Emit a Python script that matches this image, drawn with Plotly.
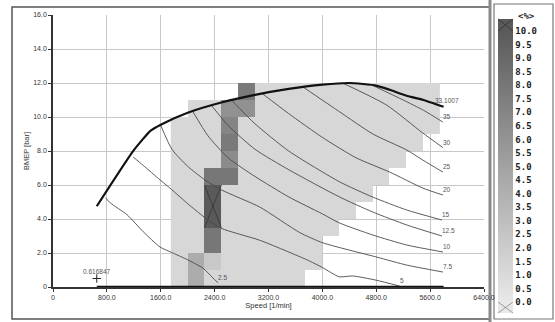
import plotly.graph_objects as go
import numpy as np

# ---------------- data ----------------
speed_ticks = [0, 800, 1600, 2400, 3200, 4000, 4800, 5600, 6400]
speed_tick_labels = ["0", "800.0", "1600.0", "2400.0", "3200.0", "4000.0", "4800.0", "5600.0", "6400.0"]
bmep_ticks = [0, 2, 4, 6, 8, 10, 12, 14, 16]
bmep_tick_labels = ["0", "2.0", "4.0", "6.0", "8.0", "10.0", "12.0", "14.0", "16.0"]

# full-load curve
fl_speed = [650, 1200, 1450, 1600, 2000, 2500, 3000, 3500, 4000, 4400, 4800, 5000, 5250, 5500, 5800]
fl_bmep = [4.75, 8.05, 9.2, 9.55, 10.25, 10.85, 11.3, 11.65, 11.9, 12.0, 11.85, 11.6, 11.25, 11.0, 10.6]

# zero-load line
zl_speed = [650, 5800]
zl_bmep = [0, 0]

# map cells (value in %)
cell_speed_edges = list(range(1750, 5751, 250))
cell_bmep_edges = [i * 0.5 for i in range(25)]
col_bottom = [0, 0, 0, 0, 0, 0, 0, 0, 1, 3, 4, 5, 6, 7, 8, 9]
col_top = [10, 11, 11, 11, 12, 12, 12, 12, 12, 12, 12, 12, 12, 12, 12, 12]
base_value = 1.2
# (speed_lo, bmep_lo, bmep_hi, value)
special_cells = [
    (2000, 0.0, 2.0, 4.3),
    (2250, 1.0, 2.0, 2.3),
    (2250, 2.0, 3.5, 8.0),
    (2250, 3.5, 6.0, 11.0),
    (2250, 6.0, 7.0, 8.0),
    (2500, 6.0, 7.0, 8.0),
    (2500, 7.0, 8.0, 6.6),
    (2500, 8.0, 9.0, 7.8),
    (2500, 9.0, 10.0, 7.0),
    (2500, 10.0, 11.0, 6.2),
    (2750, 10.0, 11.0, 6.2),
    (2750, 11.0, 12.0, 7.8),
]
z_min, z_max = 0.0, 10.0

# iso-lines (label, speed, bmep)
iso_lines = [
    ("2.5", [780, 850, 1100, 1340, 1590, 1780, 2000, 2230, 2370, 2450],
            [5.25, 4.95, 4.25, 3.25, 2.35, 2.0, 1.6, 1.1, 0.55, 0.25]),
    ("5", [1190, 1340, 1590, 1800, 2000, 2250, 2500, 3070, 3770, 4000, 4250, 4450, 4800, 5150],
          [7.65, 7.15, 6.3, 5.6, 4.9, 4.1, 3.45, 2.75, 1.6, 1.15, 0.6, 0.65, 0.4, 0.05]),
    ("7.5", [1600, 1766, 2000, 2255, 2507, 3071, 3665, 4006, 4807, 5252, 5790],
            [9.5, 8.1, 7.1, 6.3, 5.7, 4.7, 3.2, 2.6, 1.76, 1.29, 0.88]),
    ("10", [2080, 2300, 2600, 3000, 3500, 4000, 4258, 4748, 5252, 5790],
           [10.3, 8.9, 7.6, 6.5, 5.3, 4.3, 3.76, 3.06, 2.47, 2.06]),
    ("12.5", [2350, 2600, 3000, 3500, 4258, 4748, 5252, 5775],
             [10.7, 9.5, 8.1, 6.9, 5.29, 4.41, 3.65, 3.0]),
    ("15", [2650, 3000, 3500, 4258, 4748, 5252, 5775],
           [11.0, 9.6, 8.0, 6.18, 5.29, 4.53, 3.94]),
    ("20", [3100, 3500, 4000, 4500, 5000, 5490, 5790],
           [11.4, 10.2, 8.8, 7.6, 6.76, 5.82, 5.41]),
    ("25", [3700, 4258, 4750, 5252, 5490, 5790],
           [11.8, 10.3, 9.0, 8.06, 7.47, 6.76]),
    ("30", [4300, 4955, 5490, 5790],
           [12.0, 10.7, 9.06, 8.2]),
    ("35", [4750, 5200, 5500, 5790],
           [11.85, 11.0, 10.4, 9.7]),
]

min_point = (650, 0.5, "0.616847")
max_label = (5650, 11.0, "33.1007")

colorbar_ticks = [i * 0.5 for i in range(21)]
colorbar_labels = ["%.1f" % v for v in colorbar_ticks]
colorbar_title = "&lt;%&gt;"

# ---------------- build ----------------
ncol = len(cell_speed_edges) - 1
nrow = len(cell_bmep_edges) - 1
z = np.full((nrow, ncol), np.nan)
for c in range(ncol):
    for r in range(nrow):
        ymid = (cell_bmep_edges[r] + cell_bmep_edges[r + 1]) / 2
        if col_bottom[c] < ymid < col_top[c]:
            z[r, c] = base_value
for (sx, y0, y1, v) in special_cells:
    c = cell_speed_edges.index(sx)
    for r in range(nrow):
        ymid = (cell_bmep_edges[r] + cell_bmep_edges[r + 1]) / 2
        if y0 < ymid < y1:
            z[r, c] = v

greys = [[0.0, "#e8e8e8"], [0.5, "#a2a2a2"], [1.0, "#5a5a5a"]]

# pixel geometry helpers (plot area 53..484 x 15..287)
PX_L, PX_R, PX_T, PX_B = 53, 484, 15, 287
def px(xp):
    return (xp - PX_L) / (PX_R - PX_L)
def py(yp):
    return (PX_B - yp) / (PX_B - PX_T)

fig = go.Figure()
fig.add_trace(go.Heatmap(
    x=cell_speed_edges, y=cell_bmep_edges, z=z,
    zmin=z_min, zmax=z_max, colorscale=greys, hoverongaps=False,
    colorbar=dict(
        x=px(498), xanchor="left", xref="paper", xpad=0, ypad=0,
        y=py(166.5), yanchor="middle", len=271, lenmode="pixels",
        thickness=15, outlinewidth=0,
        tickvals=colorbar_ticks, ticktext=colorbar_labels,
        ticks="", ticklabelposition="outside",
        tickfont=dict(family="DejaVu Sans Mono", size=9, color="#222", weight="bold"),
    ),
))

# crosses in overflow cells
cx, cy = [], []
for (sx, y0, y1, v) in special_cells:
    if v > z_max:
        x0, x1 = sx, sx + 250
        cx += [x0, x1, None, x0, x1, None]
        cy += [y0, y1, None, y1, y0, None]
fig.add_trace(go.Scatter(x=cx, y=cy, mode="lines",
                         line=dict(color="#333", width=0.8), hoverinfo="skip"))

annotations = []
for lab, xs, ys in iso_lines:
    fig.add_trace(go.Scatter(x=xs, y=ys, mode="lines",
                             line=dict(color="#4a4a4a", width=0.9, shape="spline", smoothing=0.6),
                             hoverinfo="skip"))
    annotations.append(dict(x=xs[-1], y=ys[-1], text=lab, showarrow=False,
                            xanchor="left", yanchor="bottom", xshift=-2, yshift=0,
                            font=dict(family="Liberation Sans", size=6.5, color="#555")))

fig.add_trace(go.Scatter(x=fl_speed, y=fl_bmep, mode="lines",
                         line=dict(color="#111", width=2.2, shape="spline", smoothing=0.5),
                         hoverinfo="skip"))
fig.add_trace(go.Scatter(x=zl_speed, y=zl_bmep, mode="lines",
                         line=dict(color="#111", width=2.5), hoverinfo="skip", cliponaxis=False))
fig.add_trace(go.Scatter(x=[min_point[0]], y=[min_point[1]], mode="markers",
                         marker=dict(symbol="cross-thin", size=6, line=dict(color="#222", width=1)),
                         hoverinfo="skip"))
annotations.append(dict(x=min_point[0], y=min_point[1], text=min_point[2], showarrow=False,
                        yanchor="bottom", yshift=2,
                        font=dict(family="Liberation Sans", size=6.5, color="#555")))
annotations.append(dict(x=max_label[0], y=max_label[1], text=max_label[2], showarrow=False,
                        xanchor="left", yanchor="middle",
                        font=dict(family="Liberation Sans", size=6.5, color="#555")))
annotations.append(dict(xref="paper", yref="paper", x=px(516), y=py(16), text=colorbar_title,
                        showarrow=False, xanchor="left", yanchor="middle",
                        font=dict(family="DejaVu Sans Mono", size=9, color="#222", weight="bold")))

shapes = [
    # outer frame of the plot panel
    dict(type="rect", xref="paper", yref="paper", x0=px(12), x1=px(490), y0=py(319), y1=py(7),
         line=dict(color="#555", width=1.5), layer="below"),
    # separator bar
    dict(type="line", xref="paper", yref="paper", x0=px(490), x1=px(490), y0=py(322), y1=py(0),
         line=dict(color="#8a8a8a", width=3), layer="below"),
    # frame of the legend panel
    dict(type="rect", xref="paper", yref="paper", x0=px(494), x1=px(553), y0=py(319), y1=py(4),
         line=dict(color="#777", width=1.2), layer="below"),
    # colorbar over/under-range boxes
    dict(type="rect", xref="paper", yref="paper", x0=px(498), x1=px(513), y0=py(31), y1=py(19),
         fillcolor="#5a5a5a", line=dict(width=0)),
    dict(type="line", xref="paper", yref="paper", x0=px(498), x1=px(513), y0=py(31), y1=py(19),
         line=dict(color="#333", width=0.8)),
    dict(type="line", xref="paper", yref="paper", x0=px(498), x1=px(513), y0=py(19), y1=py(31),
         line=dict(color="#333", width=0.8)),
    dict(type="rect", xref="paper", yref="paper", x0=px(498), x1=px(513), y0=py(313), y1=py(302),
         fillcolor="#e8e8e8", line=dict(width=0)),
    dict(type="line", xref="paper", yref="paper", x0=px(498), x1=px(513), y0=py(313), y1=py(302),
         line=dict(color="#888", width=0.8)),
    dict(type="line", xref="paper", yref="paper", x0=px(498), x1=px(513), y0=py(302), y1=py(313),
         line=dict(color="#888", width=0.8)),
]

fig.update_layout(
    width=555, height=322,
    margin=dict(l=53, r=71, t=15, b=35, autoexpand=False),
    paper_bgcolor="white", plot_bgcolor="white",
    showlegend=False,
    annotations=annotations, shapes=shapes,
    font=dict(family="Liberation Sans", size=7, color="#333"),
    xaxis=dict(range=[0, 6400], tickvals=speed_ticks, ticktext=speed_tick_labels,
               showgrid=True, gridcolor="#c8c8c8", gridwidth=1,
               showline=True, linecolor="#333", linewidth=1.5,
               ticks="outside", ticklen=3, tickcolor="#333",
               tickfont=dict(size=7, color="#333"),
               title=dict(text="Speed [1/min]", font=dict(size=7.5, color="#333"), standoff=2),
               zeroline=False, automargin=False),
    yaxis=dict(range=[0, 16], tickvals=bmep_ticks, ticktext=bmep_tick_labels,
               showgrid=True, gridcolor="#c8c8c8", gridwidth=1,
               showline=True, linecolor="#333", linewidth=1.5,
               ticks="outside", ticklen=3, tickcolor="#333",
               tickfont=dict(size=7, color="#333"),
               title=dict(text="BMEP [bar]", font=dict(size=7.5, color="#333"), standoff=3),
               zeroline=False, automargin=False),
)

fig.write_html("out.html", config={"displayModeBar": False},
               post_script="document.body.style.margin='0';document.body.style.overflow='hidden';")
